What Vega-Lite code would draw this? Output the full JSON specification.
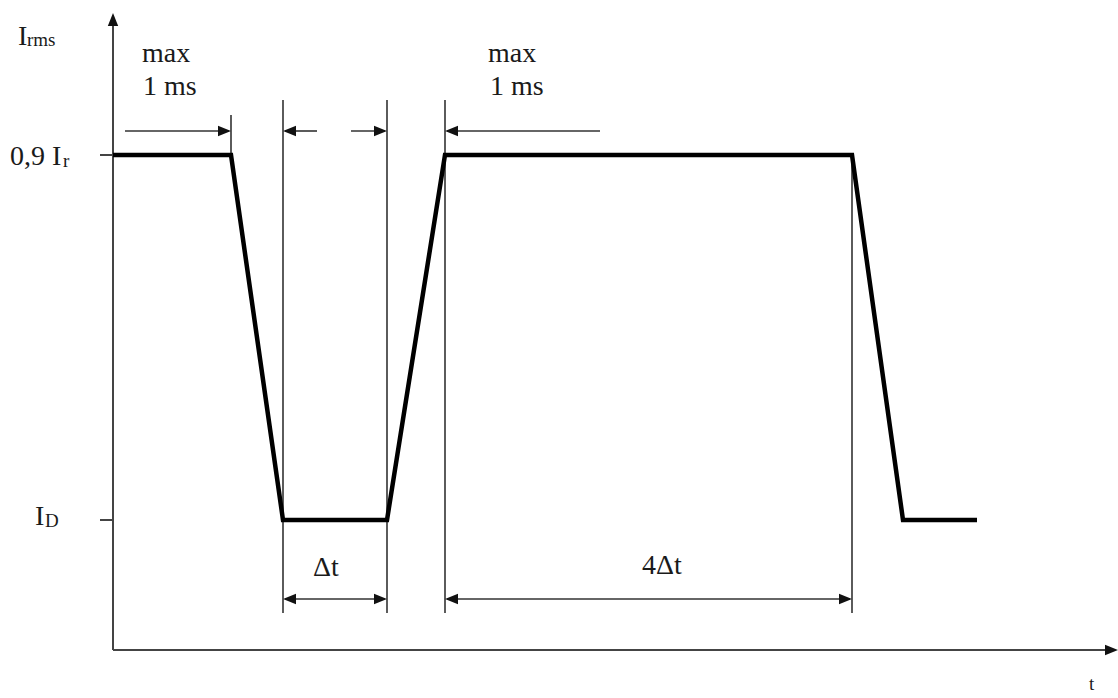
{
  "$schema": "https://vega.github.io/schema/vega-lite/v6.json",
  "width": 1118,
  "height": 698,
  "padding": 0,
  "autosize": {"type": "none"},
  "background": "white",
  "config": {"view": {"stroke": null}},
  "datasets": {
    "wave": [
      {"i": 0, "x": 0, "y": 495},
      {"i": 1, "x": 118, "y": 495},
      {"i": 2, "x": 170, "y": 130},
      {"i": 3, "x": 274, "y": 130},
      {"i": 4, "x": 332, "y": 495},
      {"i": 5, "x": 739, "y": 495},
      {"i": 6, "x": 790, "y": 130},
      {"i": 7, "x": 864, "y": 130}
    ],
    "axes": [
      {"x": 0, "y": 0, "x2": 0, "y2": 632},
      {"x": 0, "y": 0, "x2": 1000, "y2": 0},
      {"x": -13, "y": 495, "x2": 0, "y2": 495},
      {"x": -13, "y": 130, "x2": 0, "y2": 130}
    ],
    "thin": [
      {"x": 118, "y": 495, "x2": 118, "y2": 535},
      {"x": 170, "y": 37, "x2": 170, "y2": 550},
      {"x": 274, "y": 37, "x2": 274, "y2": 550},
      {"x": 332, "y": 37, "x2": 332, "y2": 550},
      {"x": 739, "y": 37, "x2": 739, "y2": 495},
      {"x": 12, "y": 519, "x2": 116, "y2": 519},
      {"x": 172, "y": 519, "x2": 204, "y2": 519},
      {"x": 238, "y": 519, "x2": 272, "y2": 519},
      {"x": 334, "y": 519, "x2": 487, "y2": 519},
      {"x": 172, "y": 51, "x2": 272, "y2": 51},
      {"x": 334, "y": 51, "x2": 737, "y2": 51}
    ],
    "heads": [
      {"x": 0, "y": 637, "dir": "up"},
      {"x": 1005, "y": 0, "dir": "right"},
      {"x": 118, "y": 519, "dir": "right"},
      {"x": 170, "y": 519, "dir": "left"},
      {"x": 274, "y": 519, "dir": "right"},
      {"x": 332, "y": 519, "dir": "left"},
      {"x": 170, "y": 51, "dir": "left"},
      {"x": 274, "y": 51, "dir": "right"},
      {"x": 332, "y": 51, "dir": "left"},
      {"x": 739, "y": 51, "dir": "right"}
    ],
    "labels": [
      {"x": -95, "y": 605, "text": "I"},
      {"x": 29, "y": 588, "text": "max"},
      {"x": 30, "y": 555, "text": "1 ms"},
      {"x": 375, "y": 588, "text": "max"},
      {"x": 377, "y": 555, "text": "1 ms"},
      {"x": -103, "y": 485, "text": "0,9 I"},
      {"x": -78, "y": 125, "text": "I"},
      {"x": 200, "y": 74, "text": "Δt"},
      {"x": 529, "y": 76, "text": "4Δt"}
    ],
    "subs": [
      {"x": -86, "y": 604, "text": "rms"},
      {"x": -50, "y": 483, "text": "r"},
      {"x": -68, "y": 123, "text": "D"},
      {"x": 976, "y": -40, "text": "t"}
    ]
  },
  "encoding": {
    "x": {"field": "x", "type": "quantitative", "scale": {"domain": [-113, 1005], "nice": false, "zero": false}, "axis": null},
    "y": {"field": "y", "type": "quantitative", "scale": {"domain": [-48, 650], "nice": false, "zero": false}, "axis": null}
  },
  "layer": [
    {
      "data": {"name": "axes"},
      "mark": {"type": "rule", "color": "#444", "strokeWidth": 2},
      "encoding": {"x2": {"field": "x2"}, "y2": {"field": "y2"}}
    },
    {
      "data": {"name": "thin"},
      "mark": {"type": "rule", "color": "#333", "strokeWidth": 1.6},
      "encoding": {"x2": {"field": "x2"}, "y2": {"field": "y2"}}
    },
    {
      "data": {"name": "heads"},
      "mark": {"type": "point", "filled": true, "color": "#111", "opacity": 1, "size": 169},
      "encoding": {
        "shape": {
          "field": "dir",
          "type": "nominal",
          "scale": {"domain": ["right", "left", "up"], "range": ["M0,0L-2,-0.8L-2,0.8Z", "M0,0L2,-0.8L2,0.8Z", "M0,0L-0.8,2L0.8,2Z"]},
          "legend": null
        }
      }
    },
    {
      "data": {"name": "wave"},
      "mark": {"type": "line", "color": "#000", "strokeWidth": 4.5, "strokeJoin": "miter", "strokeCap": "butt"},
      "encoding": {"order": {"field": "i", "type": "quantitative"}}
    },
    {
      "data": {"name": "labels"},
      "mark": {"type": "text", "font": "Liberation Serif", "fontSize": 28, "align": "left", "baseline": "alphabetic", "color": "#1a1a1a"},
      "encoding": {"text": {"field": "text"}}
    },
    {
      "data": {"name": "subs"},
      "mark": {"type": "text", "font": "Liberation Serif", "fontSize": 19, "align": "left", "baseline": "alphabetic", "color": "#1a1a1a"},
      "encoding": {"text": {"field": "text"}}
    }
  ]
}
